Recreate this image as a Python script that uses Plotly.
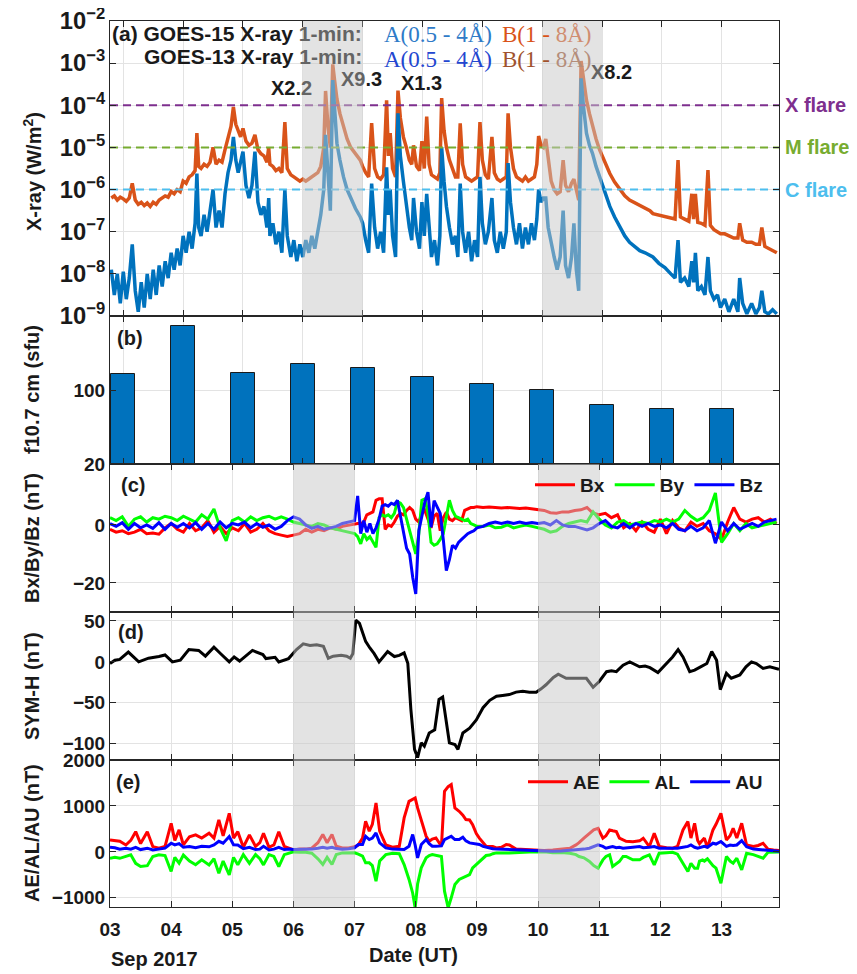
import plotly.graph_objects as go

# ---------------- Panel (a): GOES X-ray flux, log10(W/m^2) ----------------
t_xray = [
    2.80, 2.85, 2.90, 2.95, 3.00, 3.05, 3.10, 3.15, 3.20, 3.25,
    3.30, 3.35, 3.40, 3.45, 3.50, 3.55, 3.60, 3.65, 3.70, 3.75,
    3.80, 3.85, 3.90, 3.95, 4.00, 4.05, 4.10, 4.15, 4.20, 4.23,
    4.26, 4.30, 4.35, 4.40, 4.45, 4.50, 4.55, 4.60, 4.65, 4.70,
    4.75, 4.80, 4.84, 4.88, 4.92, 4.96, 5.00, 5.05, 5.10, 5.15,
    5.20, 5.25, 5.30, 5.35, 5.40, 5.43, 5.45, 5.50, 5.55,
    5.60, 5.65, 5.70, 5.74, 5.80, 5.85, 5.90, 5.95, 6.00,
    6.05, 6.10, 6.15, 6.20, 6.25, 6.30, 6.35, 6.38, 6.42, 6.46,
    6.50, 6.53, 6.57, 6.62, 6.68, 6.74, 6.80, 6.88, 6.96, 7.00,
    7.05, 7.10, 7.15, 7.20, 7.25, 7.30, 7.35, 7.40, 7.43, 7.46, 7.50,
    7.55, 7.59, 7.63, 7.68, 7.73, 7.78, 7.82, 7.85, 7.90, 7.95, 7.99,
    8.03, 8.07, 8.11, 8.15, 8.20, 8.25, 8.29, 8.32, 8.36, 8.40, 8.45,
    8.50, 8.55, 8.59, 8.63, 8.67, 8.72, 8.77, 8.82, 8.87, 8.92, 8.96,
    9.00, 9.05, 9.10, 9.16, 9.20, 9.25, 9.30, 9.35, 9.40, 9.43,
    9.47, 9.52, 9.57, 9.62, 9.67, 9.72, 9.77, 9.82, 9.87, 9.91,
    9.94, 9.98, 10.02, 10.06, 10.10, 10.15, 10.20, 10.25, 10.30, 10.35,
    10.39, 10.44, 10.49, 10.53, 10.57, 10.61, 10.65, 10.69, 10.74, 10.79,
    10.84, 10.90, 10.96, 11.04, 11.13, 11.21, 11.30, 11.38, 11.46, 11.55, 11.63,
    11.72, 11.80, 11.85, 11.95, 12.05, 12.15, 12.22, 12.27, 12.31, 12.38,
    12.45, 12.50, 12.53, 12.56, 12.60, 12.66, 12.72, 12.77, 12.81, 12.87,
    12.93, 12.98, 13.05, 13.12, 13.20, 13.27, 13.30, 13.35, 13.42,
    13.50, 13.57, 13.63, 13.67, 13.72, 13.78, 13.85, 13.92,
]
xray_B_log = [  # B (1-8 A)
    -6.20, -6.15, -6.25, -6.18, -6.22, -6.28, -6.20, -5.85, -6.25, -6.35,
    -6.30, -6.38, -6.32, -6.40, -6.30, -6.35, -6.25, -6.20, -6.15, -6.18,
    -6.05, -6.10, -6.00, -6.05, -5.80, -5.85, -5.70, -5.65, -5.55, -4.66,
    -5.45, -5.50, -5.40, -5.45, -5.35, -5.00, -5.40, -5.30, -5.35, -5.05,
    -4.75, -4.50, -4.04, -4.45, -4.60, -4.75, -4.55, -4.85, -4.95, -4.90,
    -4.70, -5.05, -5.15, -5.20, -5.35, -5.00, -5.40, -5.45, -5.55,
    -5.50, -5.60, -4.40, -5.50, -5.65, -5.70, -5.75, -5.80, -5.75,
    -5.80, -5.75, -5.70, -5.65, -5.60, -5.45, -5.00, -3.66, -4.50, -5.00,
    -3.03, -3.40, -3.85, -4.20, -4.50, -4.80, -5.00, -5.15, -5.30, -5.45,
    -5.60, -5.70, -4.42, -5.50, -5.70, -5.75, -5.65, -3.88, -5.20, -4.66, -5.50,
    -5.70, -3.65, -4.30, -4.75, -5.00, -5.30, -5.40, -4.95, -5.45, -5.55, -4.85,
    -5.50, -4.27, -5.40, -5.65, -5.70, -5.75, -5.60, -3.83, -4.60, -5.00, -5.30,
    -5.50, -5.70, -5.70, -4.43, -5.40, -5.70, -5.75, -5.80, -5.75, -5.70, -4.40,
    -5.30, -5.65, -5.75, -4.75, -5.60, -5.75, -5.80, -5.75, -5.70, -4.19,
    -5.00, -5.50, -5.70, -5.75, -5.80, -5.70, -5.80, -5.75, -5.70, -5.40,
    -4.73, -4.95, -5.00, -4.80, -5.30, -5.80, -6.00, -6.10, -6.05, -5.30,
    -5.90, -6.05, -5.85, -5.75, -6.00, -6.25, -2.95, -3.40, -3.88, -4.20,
    -4.50, -4.80, -5.06, -5.35, -5.62, -5.82, -6.00, -6.15, -6.25, -6.32, -6.37,
    -6.45, -6.50, -6.57, -6.60, -6.65, -6.68, -6.70, -5.30, -6.65, -6.70,
    -6.75, -6.10, -6.70, -6.10, -6.78, -6.80, -6.85, -5.54, -6.85, -6.95,
    -7.00, -7.05, -7.05, -7.10, -7.15, -7.15, -6.80, -7.20, -7.25,
    -7.25, -7.30, -7.30, -6.90, -7.35, -7.40, -7.45, -7.50,
]
xray_A_log = [  # A (0.5-4 A)
    -7.90, -8.50, -8.00, -8.70, -7.95, -8.60, -8.10, -7.30, -8.40, -8.90,
    -8.20, -8.80, -8.00, -8.60, -7.90, -8.50, -7.80, -8.30, -7.70, -8.10,
    -7.50, -7.90, -7.40, -7.80, -7.10, -7.50, -7.00, -7.40, -6.80, -5.62,
    -6.90, -7.10, -6.60, -7.00, -6.50, -6.00, -6.90, -6.50, -6.90, -6.10,
    -5.60, -5.30, -4.75, -5.30, -5.60, -5.30, -5.10, -5.90, -6.20, -5.90,
    -5.10, -6.30, -6.60, -6.40, -6.90, -6.20, -7.10, -6.80, -7.30,
    -7.00, -7.50, -6.00, -7.10, -7.60, -7.20, -7.70, -7.30, -7.60,
    -7.20, -7.50, -7.10, -7.40, -7.00, -6.60, -6.00, -4.70, -5.60, -6.50,
    -3.40, -4.00, -4.90, -5.30, -5.70, -6.00, -6.20, -6.45, -6.65, -6.80,
    -7.20, -7.50, -5.86, -6.90, -7.40, -7.00, -7.50, -5.47, -6.60, -6.00, -7.10,
    -7.60, -4.19, -5.20, -5.80, -6.40, -6.90, -7.20, -6.20, -7.00, -7.40, -6.30,
    -7.10, -6.10, -7.00, -7.60, -7.20, -7.80, -7.10, -5.00, -5.80, -6.40, -6.90,
    -7.30, -7.10, -7.60, -5.86, -7.00, -7.50, -7.00, -7.70, -7.20, -7.60, -5.70,
    -6.80, -7.30, -7.00, -6.20, -7.20, -7.50, -7.00, -7.40, -7.00, -5.37,
    -6.30, -6.90, -7.30, -6.80, -7.40, -6.90, -7.30, -6.80, -7.20, -6.70,
    -6.00, -6.30, -6.20, -6.20, -6.90, -7.30, -7.60, -7.90, -7.60, -6.50,
    -7.80, -8.10, -7.60, -6.80, -7.90, -8.40, -3.36, -4.03, -4.66, -4.95,
    -5.14, -5.45, -5.70, -6.05, -6.40, -6.65, -6.90, -7.10, -7.25, -7.37, -7.45,
    -7.50, -7.55, -7.60, -7.75, -7.85, -8.00, -8.10, -7.20, -8.20, -8.10,
    -8.30, -7.70, -8.20, -7.50, -8.40, -8.30, -8.50, -7.60, -8.40, -8.60,
    -8.50, -8.80, -8.60, -8.90, -8.60, -8.90, -8.10, -8.70, -8.95,
    -8.70, -8.95, -8.80, -8.40, -8.90, -8.95, -8.85, -8.95,
]
flare_levels = [1e-4, 1e-5, 1e-6]
flare_names = ["X flare", "M flare", "C flare"]
flare_colors = ["#7E2F8E", "#77AC30", "#4DBEEE"]

# ---------------- Panel (b): F10.7 ----------------
f107_days = [3, 4, 5, 6, 7, 8, 9, 10, 11, 12, 13]
f107_values = [117, 169, 118, 128, 124, 114, 106, 100, 84, 80, 80]

# ---------------- Panel (c): IMF Bx / By / Bz (nT) ----------------
t_imf = [
    3.0, 3.1, 3.2, 3.3, 3.4, 3.5, 3.6, 3.7, 3.8, 3.9,
    4.0, 4.1, 4.2, 4.3, 4.4, 4.5, 4.6, 4.7, 4.8, 4.9,
    5.0, 5.1, 5.2, 5.3, 5.4, 5.5, 5.6, 5.7, 5.8, 5.9,
    6.0, 6.1, 6.2, 6.3, 6.4, 6.5, 6.6, 6.7, 6.8, 6.9,
    7.0, 7.05, 7.1, 7.15, 7.2, 7.25, 7.3, 7.35, 7.4, 7.45,
    7.5, 7.55, 7.6, 7.65, 7.7, 7.75, 7.8, 7.85, 7.9, 7.95,
    8.0, 8.05, 8.1, 8.15, 8.2, 8.25, 8.3, 8.35, 8.4, 8.45,
    8.5, 8.55, 8.6, 8.65, 8.7, 8.75, 8.8, 8.85, 8.9, 8.95,
    9.0, 9.1, 9.2, 9.3, 9.4, 9.5, 9.6, 9.7, 9.8, 9.9,
    10.0, 10.1, 10.2, 10.3, 10.4, 10.5, 10.6, 10.7, 10.8, 10.9,
    11.0, 11.1, 11.2, 11.3, 11.4, 11.5, 11.6, 11.7, 11.8, 11.9,
    12.0, 12.1, 12.2, 12.3, 12.4, 12.5, 12.6, 12.7, 12.8, 12.9,
    13.0, 13.1, 13.2, 13.3, 13.4, 13.5, 13.6, 13.7, 13.8, 13.9,
]
bx = [
    -1.5, -2.5, -2.0, -3.0, -2.5, -1.5, -3.0, -2.8, -3.2, -1.0,
    0.5, -1.5, -2.5, 0.5, -2.0, -1.0, 1.5, -2.5, -0.5, -3.0,
    -1.0, -2.0, 0.5, -2.5, -1.5, 0.5, -2.0, -3.0, -3.5, -4.0,
    -3.5, -3.0, -1.5, -2.5, -1.5, -2.0, -1.0, -1.5, -0.5, 0.0,
    0.5, 0.5, 0.5, 1.0, 3.5, 4.0, 4.5, 8.5, 9.0, 9.0,
    -1.5, 0.0, -0.5, 1.0, 3.0, 4.0, 3.5, 5.0, 6.0, 5.0,
    2.0, 1.0, 4.0, 5.0, 2.0, -1.0, 3.0, 4.0, -2.0, 2.5,
    4.4, 2.0, 1.5, 2.5, 2.0, 1.5, 5.0, 5.5, 6.0, 6.0,
    6.3, 6.0, 6.2, 6.0, 5.8, 6.0, 5.8, 5.7, 5.8, 5.5,
    5.2, 5.0, 4.2, 4.0, 4.5, 4.5, 5.0, 5.2, 6.0, 4.0,
    3.5, 4.0, 2.5, 3.5, -1.0, 0.5, -2.0, 1.0, -1.5, -2.5,
    2.0, -3.0, 1.5, -1.0, -2.0, 1.0, -0.5, 0.5, -2.0, -3.0,
    -5.0, 1.0, 6.0, 2.0, 1.0, 2.0, 2.5, 1.0, 2.0, 0.5,
]
by = [
    2.5, 1.5, 2.8, -0.5, 2.0, 2.8, 1.0, 2.5, 2.0, 3.0,
    2.5, 1.5, 3.0, 2.0, 1.0, 3.5, 2.0, 5.5, -1.0, -5.5,
    1.5, 2.5, 1.0, 2.8, 1.5, 2.5, 3.0, 2.0, 2.8, 2.0,
    1.0, 0.5, 0.0, -0.5, 0.5, 0.0, -1.0, -1.5, -2.0, -2.5,
    -3.0, -4.0, -6.5, -3.0, -5.0, -4.0, -6.0, -7.7, 2.5, 3.5,
    3.0, 3.5, 2.5, 4.0, 8.0, 7.5, 6.0, 2.0, -3.0, -6.0,
    -10.0, -3.0, 8.5, 9.0, 4.0, -6.0, -7.0, -6.5, -5.0, -3.0,
    3.0, 8.5, 5.0, 3.0, 2.5, 2.0, 1.5, 2.0, 0.5, 0.0,
    -0.5, -0.5, 0.0, -1.0, -0.8, 0.0, -1.0, -0.5, 0.0, -0.5,
    -1.0, -1.5, -2.5, -2.0, -0.5, 0.5, 1.0, 1.5, 1.0, 4.5,
    2.0, 0.0, -1.0, 1.0, 1.5, 0.0, 0.5, 1.0, 0.5, 1.5,
    1.0, 2.0, 1.0, 2.0, 5.0, 3.0, 1.5, 2.5, 5.0, 11.0,
    -6.0, -3.0, 0.5, -2.0, 0.5, -1.0, -0.5, 0.0, 0.5, 1.0,
]
bz = [
    0.5, -0.5, 0.8, -1.5, 0.5, -1.0, 0.0, -1.2, 0.8, -1.5,
    0.5, -0.8, 0.5, -1.0, 0.8, -1.5, 0.5, -1.5, 1.0, -1.0,
    0.5, 0.0, 1.0, -1.0, 0.5, -0.8, 0.0, -1.5, -0.5, 1.5,
    2.8, 2.0, 0.0, -1.2, -0.5, -1.5, -1.0, -0.5, 0.5, 1.0,
    1.5, 10.0, -3.0, 1.5, -2.5, 0.5, -3.0, -1.0, 2.0, 6.5,
    7.0, 6.5, 7.5, 7.0, 8.5, 3.0, -3.0, -8.0, -10.0, -18.0,
    -23.8, -2.0, 3.0, 8.0, 11.3, -0.8, 8.4, 6.0, 4.0, -5.0,
    -15.7, -12.0, -7.0, -8.0, -6.0, -5.0, -4.0, -3.0, -2.5, -2.0,
    -1.0, -0.5, 0.5, 1.0, 0.5, 1.0, 0.5, 1.0, 0.5, 0.8,
    0.5, 0.8, 0.0, 1.5, 0.0, -0.5, -0.5, -1.0, -1.7, -1.0,
    0.5, 1.5, -0.5, -1.0, 0.5, -1.0, 0.5, -0.5, 0.5, -0.5,
    0.0, -1.0, 0.5, -1.5, -2.0, -0.5, -2.0, -1.0, 1.5, -6.3,
    1.0, -2.0, 0.5, -1.5, -0.5, 0.5, -0.5, 1.0, 1.5, 2.0,
]

# ---------------- Panel (d): SYM-H (nT) ----------------
t_symh = [
    3.00, 3.08, 3.16, 3.30, 3.47, 3.63, 3.80, 3.90, 4.02, 4.15,
    4.29, 4.45, 4.56, 4.70, 4.81, 4.95, 5.03, 5.12, 5.33, 5.50,
    5.55, 5.70, 5.76, 5.92, 6.05, 6.16, 6.27, 6.38, 6.49, 6.57,
    6.65, 6.78, 6.87, 6.93, 6.97, 7.02, 7.08, 7.13, 7.18, 7.25,
    7.32, 7.40, 7.47, 7.54, 7.65, 7.73, 7.81, 7.87, 7.92, 7.98,
    8.03, 8.09, 8.14, 8.22, 8.31, 8.38, 8.44, 8.50, 8.55, 8.64,
    8.69, 8.77, 8.88, 8.99, 9.10, 9.21, 9.32, 9.42, 9.53, 9.64,
    9.75, 9.86, 9.97, 10.05, 10.13, 10.25, 10.33, 10.46, 10.60, 10.70,
    10.79, 10.90, 11.00, 11.12, 11.20, 11.28, 11.39, 11.50, 11.58, 11.66,
    11.75, 11.83, 11.96, 12.10, 12.20, 12.29, 12.37, 12.48, 12.56, 12.65,
    12.76, 12.84, 12.92, 12.98, 13.08, 13.16, 13.30, 13.40, 13.49, 13.57,
    13.68, 13.79, 13.88, 13.94,
]
symh = [
    -2, 2, 3, 12, 0, 4.5, 6.5, 8.5, 0, 2,
    15, 14, 7, 18, 10, 0, 6, 1, 14, 9,
    4, 5.5, 0, 4, 15, 22, 20, 21, 19, 4.5,
    7, 8, 7, 4.5, 10, 51, 47, 35, 25, 17,
    10, 0, 6, 12.6, 6.5, 8, 11, -1.6, -58, -107,
    -117, -99, -103, -87, -83, -46, -43, -71, -99, -101,
    -107, -87, -81, -71, -56, -47, -42, -41, -40, -37,
    -36, -37, -37, -33, -28, -19, -15, -20, -20, -20,
    -20, -31, -24, -12, -11, -12, -4, 0, -3, -6,
    -5, -7, -13, -2, 6, 15, 6, -12, -10, -6.5,
    -2, 12.6, 2, -34, -14, -20, -16, -6, 0, -2,
    -8, -6, -8, -9,
]

# ---------------- Panel (e): AE / AL / AU (nT) ----------------
t_ae = [
    3.00, 3.08, 3.16, 3.26, 3.34, 3.42, 3.50, 3.61, 3.70, 3.80,
    3.90, 4.00, 4.06, 4.13, 4.20, 4.30, 4.40, 4.50, 4.62, 4.70,
    4.78, 4.85, 4.95, 5.02, 5.09, 5.18, 5.28, 5.38, 5.45, 5.51,
    5.60, 5.68, 5.76, 5.85, 5.93, 6.00, 6.10, 6.20, 6.30, 6.40,
    6.48, 6.55, 6.63, 6.70, 6.80, 6.90, 7.00, 7.06, 7.13, 7.18,
    7.24, 7.29, 7.35, 7.41, 7.51, 7.62, 7.73, 7.81, 7.89, 7.95,
    7.99, 8.03, 8.09, 8.17, 8.22, 8.27, 8.33, 8.42, 8.47, 8.53,
    8.58, 8.64, 8.71, 8.77, 8.82, 8.88, 8.93, 8.99, 9.04, 9.10,
    9.15, 9.21, 9.26, 9.32, 9.40, 9.48, 9.53, 9.64, 9.75, 9.86,
    9.97, 10.10, 10.24, 10.38, 10.52, 10.62, 10.67, 10.75, 10.84, 10.91,
    10.98, 11.06, 11.11, 11.17, 11.22, 11.28, 11.33, 11.39, 11.44, 11.55,
    11.66, 11.72, 11.82, 11.90, 11.98, 12.10, 12.20, 12.28, 12.37, 12.45,
    12.50, 12.56, 12.61, 12.64, 12.69, 12.72, 12.77, 12.86, 12.91, 12.99,
    13.08, 13.14, 13.19, 13.25, 13.33, 13.41, 13.52, 13.60, 13.68, 13.76,
    13.85, 13.94,
]
ae = [
    260, 250, 230, 150, 250, 440, 180, 440, 115, 80,
    120, 620, 250, 478, 150, 330, 370, 300, 405, 300,
    695, 350, 840, 300, 440, 100, 370, 120, 200, 405,
    100, 150, 440, 120, 80, 43, 60, 60, 80, 200,
    380, 200, 377, 123, 87, 87, 110, 150, 304, 667,
    450, 600, 1065, 450, 150, 100, 120, 740, 1100, 1150,
    1174, 956, 703, 340, 232, 280, 304, 123, 1319, 1420,
    1464, 956, 884, 800, 703, 695, 594, 400, 300, 200,
    123, 116, 116, 87, 100, 160, 152, 60, 50, 50,
    43, 30, 43, 60, 80, 152, 200, 300, 405, 480,
    514, 297, 350, 478, 460, 442, 300, 260, 230, 220,
    240, 297, 116, 405, 120, 90, 80, 120, 478, 660,
    300, 623, 250, 180, 260, 300, 90, 478, 600, 840,
    260, 350, 514, 300, 623, 150, 120, 140, 188, 60,
    40, 30,
]
al = [
    -138, -120, -140, -100, -65, -250, -319, -300, -100, -65,
    -80, -427, -120, -246, -70, -200, -280, -174, -283, -150,
    -464, -200, -500, -120, -283, -60, -250, -60, -150, -283,
    -60, -100, -319, -60, -30, 0, -10, -10, -30, -150,
    -275, -120, -275, -58, -22, -22, -20, -50, -94, -239,
    -239, -300, -638, -200, -60, -30, -40, -275, -600, -900,
    -1217, -700, -348, -130, -80, -60, -70, -100, -855, -1217,
    -1000, -710, -600, -565, -520, -493, -350, -275, -200, -130,
    -80, -70, -40, -22, -30, -22, -22, -10, -5, 0,
    0, 0, -20, -15, -30, -60, -101, -130, -210, -300,
    -355, -174, -100, -65, -319, -250, -210, -100, -101, -174,
    -174, -120, -65, -283, -30, -20, -10, -50, -246, -427,
    -250, -355, -355, -200, -174, -200, -150, -300, -355, -681,
    -101, -200, -246, -138, -391, -30, -60, -100, -138, -10,
    0, 0,
]
au = [
    100, 90, 60, 80, 60, 100, 50, 80, 40, 60,
    80, 188, 150, 180, 100, 116, 90, 120, 110, 150,
    230, 188, 333, 152, 150, 70, 100, 50, 60, 120,
    43, 60, 100, 50, 60, 50, 50, 60, 60, 80,
    100, 80, 100, 72, 60, 70, 90, 160, 160, 340,
    268, 300, 413, 196, 87, 60, 51, 51, 123, 377,
    150, -130, 160, 268, 180, 123, 123, 130, 268, 300,
    340, 268, 268, 319, 240, 196, 180, 160, 160, 120,
    100, 87, 70, 60, 55, 51, 51, 40, 35, 29,
    20, 15, 15, 20, 30, 43, 50, 60, 80, 120,
    152, 120, 80, 100, 116, 90, 100, 80, 90, 100,
    116, 90, 100, 116, 80, 80, 70, 80, 100, 120,
    152, 100, 80, 90, 110, 120, 100, 188, 170, 225,
    120, 150, 140, 150, 246, 110, 60, 50, 40, 30,
    20, 15,
]

# shaded intervals (days) and axis ticks
shade_intervals = [(6, 7), (10, 11)]
day_ticks = [3, 4, 5, 6, 7, 8, 9, 10, 11, 12, 13]
day_ticktext = ["03", "04", "05", "06", "07", "08", "09", "10", "11", "12", "13"]
XR_A = [2.778, 13.957]   # x-range of panels (a)/(b)
XR_C = [3.0, 13.94]      # x-range of panels (c)-(e)

assert len(t_xray) == len(xray_B_log) == len(xray_A_log)
assert len(t_imf) == len(bx) == len(by) == len(bz)
assert len(t_symh) == len(symh)
assert len(t_ae) == len(ae) == len(al) == len(au)

# ---------------- figure ----------------
# page body has an 8px margin, so the figure is 8px smaller than the window
OFF = 8
W, H = 857 - OFF, 974 - OFF
PL, PR, PT, PB = 110, 779, 21, 907          # plot area in page pixels
ML, MT = PL - OFF, PT - OFF
MR, MB = W - (PR - OFF), H - (PB - OFF)


def PX(x):
    return (x - PL) / (PR - PL)


def PY(y):
    return (PB - y) / (PB - PT)


FONT = "Liberation Sans"
TXT = "#1a1a1a"
GRAY = "#646464"

fig = go.Figure()

# panel (a)
fig.add_trace(go.Scatter(x=t_xray, y=[10 ** v for v in xray_B_log], mode="lines",
                         line=dict(color="#D95319", width=3.5), xaxis="x", yaxis="y",
                         showlegend=False, hoverinfo="skip"))
fig.add_trace(go.Scatter(x=t_xray, y=[10 ** v for v in xray_A_log], mode="lines",
                         line=dict(color="#0072BD", width=3.5), xaxis="x", yaxis="y",
                         showlegend=False, hoverinfo="skip"))
for lvl, col in zip(flare_levels, flare_colors):
    fig.add_trace(go.Scatter(x=XR_A, y=[lvl, lvl], mode="lines",
                             line=dict(color=col, width=2, dash="8px,5px"),
                             xaxis="x", yaxis="y", showlegend=False, hoverinfo="skip"))

# panel (b)
fig.add_trace(go.Bar(x=f107_days, y=f107_values, width=0.4,
                     marker=dict(color="#0072BD", line=dict(color="#1a1a1a", width=1)),
                     xaxis="x2", yaxis="y2", showlegend=False, hoverinfo="skip"))

# panel (c)
for name, vals, col in [("Bx", bx, "#FF0000"), ("By", by, "#00FF00"), ("Bz", bz, "#0000FF")]:
    fig.add_trace(go.Scatter(x=t_imf, y=vals, mode="lines", name=name,
                             line=dict(color=col, width=3), xaxis="x3", yaxis="y3",
                             legend="legend", showlegend=True, hoverinfo="skip"))

# panel (d)
fig.add_trace(go.Scatter(x=t_symh, y=symh, mode="lines", line=dict(color="black", width=3),
                         xaxis="x4", yaxis="y4", showlegend=False, hoverinfo="skip"))

# panel (e)
for name, vals, col in [("AE", ae, "#FF0000"), ("AL", al, "#00FF00"), ("AU", au, "#0000FF")]:
    fig.add_trace(go.Scatter(x=t_ae, y=vals, mode="lines", name=name,
                             line=dict(color=col, width=3), xaxis="x5", yaxis="y5",
                             legend="legend2", showlegend=True, hoverinfo="skip"))

# shading (semi-transparent overlay above data)
shapes = []
for xr, yr in [("x", "y"), ("x3", "y3"), ("x4", "y4"), ("x5", "y5")]:
    for a, b in shade_intervals:
        shapes.append(dict(type="rect", xref=xr, yref=yr + " domain", x0=a, x1=b, y0=0, y1=1,
                           fillcolor="rgb(200,200,200)", opacity=0.5, line=dict(width=0),
                           layer="above"))

tickfont = dict(family=FONT, size=19, color=TXT, weight="bold")
ax_common = dict(showline=True, linecolor="#262626", linewidth=1, mirror="ticks",
                 ticks="inside", ticklen=6, tickcolor="#262626", showgrid=True,
                 gridcolor="#e3e3e3", gridwidth=1, zeroline=False, tickfont=tickfont,
                 automargin=False, ticklabeloverflow="allow")

dom_a = [PY(316), 1.0]
dom_b = [PY(464), PY(316)]
dom_c = [PY(612), PY(464)]
dom_d = [PY(760), PY(612)]
dom_e = [0.0, PY(760)]

layout = dict(
    width=W, height=H, margin=dict(l=ML, r=MR, t=MT, b=MB, autoexpand=False),
    paper_bgcolor="white", plot_bgcolor="white",
    font=dict(family=FONT, color=TXT),
    bargap=0,
    xaxis=dict(ax_common, domain=[0, 1], range=XR_A, anchor="y", tickvals=day_ticks,
               showticklabels=False),
    yaxis=dict(ax_common, domain=dom_a, type="log", range=[-9, -2], dtick=1,
               exponentformat="power", showexponent="all", anchor="x"),
    xaxis2=dict(ax_common, domain=[0, 1], range=XR_A, anchor="y2", tickvals=day_ticks,
                showticklabels=False),
    yaxis2=dict(ax_common, domain=dom_b, range=[20, 180], tickvals=[20, 100], anchor="x2"),
    xaxis3=dict(ax_common, domain=[0, 1], range=XR_C, anchor="y3", tickvals=day_ticks,
                showticklabels=False),
    yaxis3=dict(ax_common, domain=dom_c, range=[-30, 21], tickvals=[-20, 0], anchor="x3"),
    xaxis4=dict(ax_common, domain=[0, 1], range=XR_C, anchor="y4", tickvals=day_ticks,
                showticklabels=False),
    yaxis4=dict(ax_common, domain=dom_d, range=[-120, 61], tickvals=[-100, -50, 0, 50],
                anchor="x4"),
    xaxis5=dict(ax_common, domain=[0, 1], range=XR_C, anchor="y5", tickvals=day_ticks,
                ticktext=day_ticktext, showticklabels=True, ticklabelstandoff=5),
    yaxis5=dict(ax_common, domain=dom_e, range=[-1200, 2000],
                tickvals=[-1000, 0, 1000, 2000], anchor="x5"),
    legend=dict(orientation="h", x=PX(768), xanchor="right", y=PY(485), yanchor="middle",
                bgcolor="rgba(0,0,0,0)", borderwidth=0, itemwidth=40, tracegroupgap=0,
                font=dict(family=FONT, size=19, color=TXT, weight="bold")),
    legend2=dict(orientation="h", x=PX(768), xanchor="right", y=PY(782), yanchor="middle",
                 bgcolor="rgba(0,0,0,0)", borderwidth=0, itemwidth=40, tracegroupgap=0,
                 font=dict(family=FONT, size=19, color=TXT, weight="bold")),
    shapes=shapes,
)
fig.update_layout(**layout)

ann = []


def txt(text, x, y, xanchor="left", size=20, color=TXT, family=FONT, weight="bold", angle=0):
    ann.append(dict(text=text, x=PX(x), y=PY(y), xref="paper", yref="paper",
                    xanchor=xanchor, yanchor="middle", showarrow=False, textangle=angle,
                    font=dict(family=family, size=size, color=color, weight=weight)))


# header lines of panel (a)
txt(f"(a) GOES-15 X-ray <span style='color:{GRAY}'>1-min:</span>", 364, 33, "right", size=21)
txt(f"GOES-13 X-ray <span style='color:{GRAY}'>1-min:</span>", 364, 57, "right", size=21)
txt("A(0.5 - 4Å)", 382, 35, "left", size=23, color="#2f7bc8", family="Liberation Serif",
    weight="normal")
txt("B(1 - <span style='color:#d08d70'>8Å)</span>", 500, 35, "left", size=23,
    color="#D95319", family="Liberation Serif", weight="normal")
txt("A(0.5 - 4Å)", 382, 59, "left", size=23, color="#2346d0", family="Liberation Serif",
    weight="normal")
txt("B(1 - <span style='color:#b48d7a'>8Å)</span>", 500, 59, "left", size=23,
    color="#A0522D", family="Liberation Serif", weight="normal")

# flare labels
txt(f"X2.<span style='color:{GRAY}'>2</span>", 291, 88, "center")
txt(f"<span style='color:{GRAY}'>X9</span>.3", 361, 79, "center")
txt("X1.3", 421, 83, "center")
txt(f"<span style='color:{GRAY}'>X</span>8.2", 611, 72, "center")

# flare class labels
for lvl_y, name, col in zip([105, 147, 190], flare_names, flare_colors):
    txt(name, 783, lvl_y, "left", color=col)

# panel letters
txt("(b)", 115, 338)
txt("(c)", 119, 485)
txt("(d)", 116, 632)
txt("(e)", 114, 782)

# y titles
for t, yc in [("X-ray (W/m<sup>2</sup>)", 172), ("f10.7 cm (sfu)", 390),
              ("Bx/By/Bz (nT)", 538), ("SYM-H (nT)", 686), ("AE/AL/AU (nT)", 833)]:
    txt(t, 32, yc, "center", angle=-90)

# bottom labels
txt("Sep 2017", 154, 959, "center")
txt("Date (UT)", 413, 955, "center")

fig.update_layout(annotations=ann)
fig.write_html("out.html")
